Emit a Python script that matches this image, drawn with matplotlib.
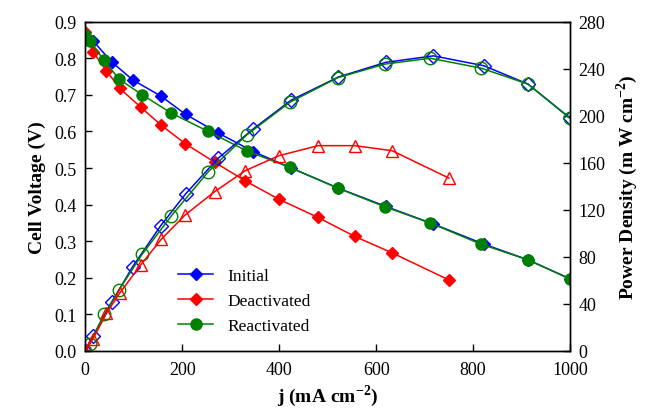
import matplotlib
matplotlib.use('Agg')
import matplotlib.pyplot as plt

plt.rcParams['font.family'] = ['Liberation Serif', 'DejaVu Serif']
plt.rcParams['mathtext.fontset'] = 'custom'
plt.rcParams['mathtext.rm'] = 'Liberation Serif'
plt.rcParams['mathtext.bf'] = 'Liberation Serif:bold'

# Initial
j_ini = [0, 16, 55, 98, 156, 207, 274, 347, 425, 522, 620, 718, 822, 913, 1000]
v_ini = [0.852, 0.848, 0.790, 0.741, 0.697, 0.647, 0.596, 0.545, 0.500, 0.445,
         0.395, 0.347, 0.292, 0.249, 0.197]
p_ini = [0, 12.5, 41.4, 71.7, 106.6, 133.5, 163.8, 189, 213.4, 233, 245.5, 251,
         242.6, 227, 198]

# Deactivated
j_dea = [0, 16, 44, 71, 115, 157, 206, 267, 330, 399, 480, 556, 633, 750]
v_dea = [0.871, 0.818, 0.766, 0.718, 0.666, 0.617, 0.567, 0.516, 0.465, 0.415,
         0.365, 0.313, 0.268, 0.194]
p_dea = [0, 10, 32, 49, 73.4, 95, 115.6, 135.5, 153.3, 166, 174.6, 174.6,
         170.3, 147]

# Reactivated
j_rea = [0, 9, 39, 70, 118, 178, 254, 333, 422, 521, 618, 711, 816, 913, 999]
v_rea = [0.863, 0.848, 0.795, 0.743, 0.700, 0.650, 0.600, 0.547, 0.502, 0.445,
         0.394, 0.350, 0.292, 0.249, 0.197]
p_rea = [0, 6, 31, 52, 82.5, 115, 152.5, 183.7, 211.5, 232.5, 244, 249,
         240.6, 227, 198]

fig = plt.figure(figsize=(6.45, 4.14), dpi=100)
ax = fig.add_axes([0.132, 0.150, 0.752, 0.795])
ax2 = ax.twinx()

ax.plot(j_ini, v_ini, color='blue', marker='D', ms=6.5, lw=1.1, label='Initial')
ax.plot(j_dea, v_dea, color='red', marker='D', ms=6.5, lw=1.1, label='Deactivated')
ax.plot(j_rea, v_rea, color='green', marker='o', ms=8, lw=1.1, label='Reactivated')

ax2.plot(j_ini, p_ini, color='blue', marker='D', ms=7, mfc='none', lw=1.1)
ax2.plot(j_rea, p_rea, color='green', marker='o', ms=9, mfc='none', lw=1.1)
ax2.plot(j_dea, p_dea, color='red', marker='^', ms=9, mfc='none', lw=1.1)

ax.set_xlim(0, 1000)
ax.set_ylim(0, 0.9)
ax2.set_ylim(0, 280)
ax.set_xticks(range(0, 1001, 200))
ax.set_yticks([i / 10 for i in range(10)])
ax.set_yticklabels(['%.1f' % (i / 10) for i in range(10)])
ax2.set_yticks(range(0, 281, 40))

for a in (ax, ax2):
    a.tick_params(direction='in', labelsize=13, length=5, width=1, pad=6)
    for s in a.spines.values():
        s.set_linewidth(1)
ax.tick_params(axis='x', pad=7)

ax.set_xlabel('j (mA cm$^{\\mathbf{-2}}$)', fontsize=14, fontweight='bold', labelpad=3)
ax.set_ylabel('Cell Voltage (V)', fontsize=14, fontweight='bold', labelpad=6)
ax2.set_ylabel('Power Density (m W cm$^{\\mathbf{-2}}$)', fontsize=14,
               fontweight='bold', labelpad=6)

ax.legend(loc='upper left', bbox_to_anchor=(0.16, 0.30), frameon=False,
          fontsize=12.5, handlelength=2.0, labelspacing=0.5)

fig.savefig('out.png', dpi=100)
